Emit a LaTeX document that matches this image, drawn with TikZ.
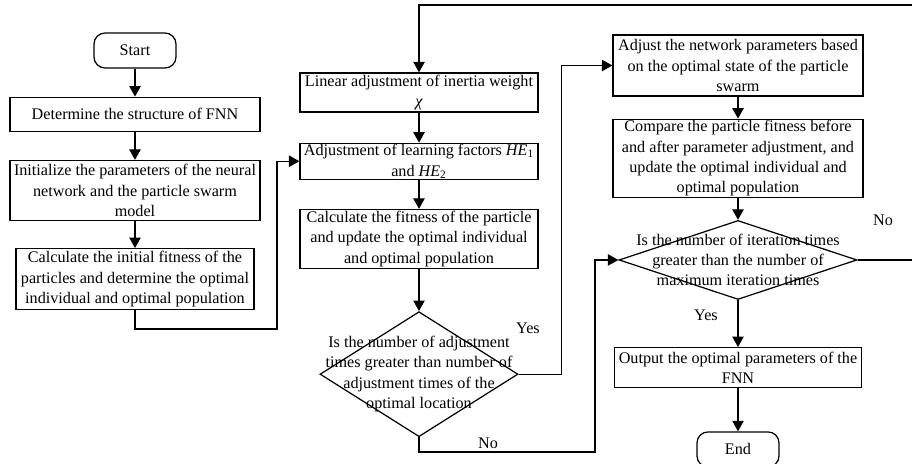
\documentclass[tikz,border=0pt]{standalone}
\usepackage{fontspec}
\setmainfont{Liberation Serif}
\usepackage{tikz}
\usetikzlibrary{shapes.geometric, arrows.meta, positioning}
\tikzstyle{process} = [rectangle, draw=black, line width=0.7pt, text centered, align=center, inner sep=0.5pt]
\tikzstyle{terminal} = [process, rounded corners=0.22cm, minimum width=1.64cm, minimum height=0.7cm]
\tikzstyle{decision} = [diamond, draw=black, line width=0.7pt, inner sep=0pt]
\tikzstyle{arrow} = [line width=0.7pt, -{Triangle[length=6pt,width=6.5pt]}]
\tikzstyle{tag} = [inner sep=0pt]

\begin{document}
\begin{tikzpicture}[font=\fontsize{9.2}{11.6}\selectfont]
        \useasboundingbox (0,0) rectangle (18.24,-9.26);

        \node (start) [terminal] at (2.70,-1.01) {Start};
        \node (structure) [process, minimum width=5cm, minimum height=0.68cm, below=0.56cm of start] {Determine the structure of FNN};
        \node (initparam) [process, minimum width=5cm, minimum height=1.2cm, below=0.56cm of structure] {Initialize the parameters of the neural\\network and the particle swarm\\model};
        \node (initfit) [process, minimum width=4.76cm, minimum height=1.22cm, below=0.54cm of initparam] {Calculate the initial fitness of the\\particles and determine the optimal\\individual and optimal population};

        \node (inertia) [process, minimum width=4.76cm, minimum height=0.78cm] at (8.38,-1.85) {Linear adjustment of inertia weight\\\textit{χ}};
        \node (learning) [process, minimum width=4.76cm, minimum height=0.72cm, below=0.6cm of inertia] {Adjustment of learning factors \textit{HE}\textsubscript{1}\\and \textit{HE}\textsubscript{2}};
        \node (fitness) [process, minimum width=4.76cm, minimum height=1.18cm, below=0.58cm of learning] {Calculate the fitness of the particle\\and update the optimal individual\\and optimal population};
        \node (adjcheck) [decision, minimum width=3.96cm, minimum height=2.5cm, below=0.84cm of fitness,
            label={[align=center]center:Is the number of adjustment\\times greater than number of\\adjustment times of the\\optimal location}] {};

        \node (netadjust) [process, minimum width=5cm, minimum height=1.22cm] at (14.76,-1.31) {Adjust the network parameters based\\on the optimal state of the particle\\swarm};
        \node (compare) [process, minimum width=5cm, minimum height=1.56cm, below=0.44cm of netadjust] {Compare the particle fitness before\\and after parameter adjustment, and\\update the optimal individual and\\optimal population};
        \node (itercheck) [decision, minimum width=4.76cm, minimum height=1.58cm, below=0.44cm of compare,
            label={[align=center]center:Is the number of iteration times\\greater than the number of\\maximum iteration times}] {};
        \node (output) [process, minimum width=4.94cm, minimum height=0.8cm, below=0.94cm of itercheck] {Output the optimal parameters of the\\FNN};
        \node (stop) [terminal, below=0.86cm of output] {End};

        \node (yesadj) [tag] at (10.56,-6.56) {Yes};
        \node (noadj) [tag] at (9.76,-8.86) {No};
        \node (yesiter) [tag] at (14.12,-6.30) {Yes};
        \node (noiter) [tag] at (17.66,-4.40) {No};

        \coordinate (jump) at (5.54,-6.58);
        \coordinate (nojump) at (11.90,-9.04);
        \coordinate (loopback) at (18.30,-0.10);

        \draw [arrow] (start) -- (structure);
        \draw [arrow] (structure) -- (initparam);
        \draw [arrow] (initparam) -- (initfit);
        \draw [arrow] (initfit.south) |- (jump) |- (learning.west);
        \draw [arrow] (inertia) -- (learning);
        \draw [arrow] (learning) -- (fitness);
        \draw [arrow] (fitness) -- (adjcheck);
        \draw [arrow] (adjcheck.east) -- ++(0.86,0) |- (netadjust.west);
        \draw [arrow] (adjcheck.south) |- (nojump) |- (itercheck.west);
        \draw [arrow] (netadjust) -- (compare);
        \draw [arrow] (compare) -- (itercheck);
        \draw [arrow] (itercheck) -- (output);
        \draw [arrow] (output) -- (stop);
        \draw [arrow] (itercheck.east) -| (loopback) -| (inertia.north);
\end{tikzpicture}
\end{document}
